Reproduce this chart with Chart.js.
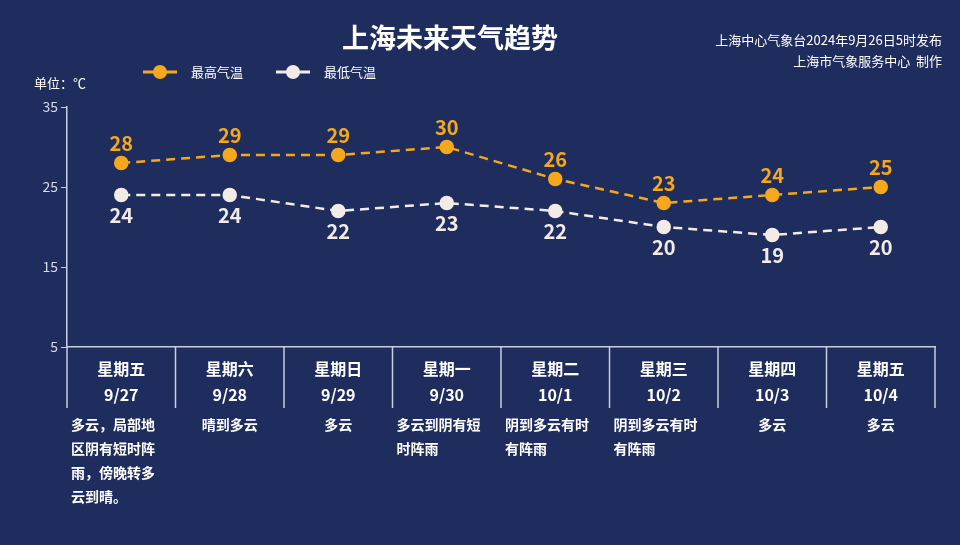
<!DOCTYPE html>
<html><head><meta charset="utf-8">
<script src="https://cdn.jsdelivr.net/npm/chart.js@4"></script>
<style>html,body{margin:0;background:#1f2d5e;}#c{display:block}</style>
</head><body>
<div style="width:960px;height:545px"><canvas id="c"></canvas></div>
<script>
const weekdays = ['星期五','星期六','星期日','星期一','星期二','星期三','星期四','星期五'];
const dates = ['9/27','9/28','9/29','9/30','10/1','10/2','10/3','10/4'];
const weather = [
  ['多云，局部地','区阴有短时阵','雨，傍晚转多','云到晴。'],
  ['晴到多云'], ['多云'], ['多云到阴有短','时阵雨'],
  ['阴到多云有时','有阵雨'], ['阴到多云有时','有阵雨'], ['多云'], ['多云']
];
const highs = [28,29,29,30,26,23,24,25];
const lows = [24,24,22,23,22,20,19,20];
const FONT = '"Noto Sans CJK SC", "Noto Sans", sans-serif';
const ORANGE = '#f5a81c', WHITE = '#f3ece6';

const extras = {
  id: 'extras',
  afterDraw(chart) {
    const ctx = chart.ctx, x = chart.scales.x, y = chart.scales.y, a = chart.chartArea;
    ctx.save();
    ctx.textAlign = 'center';
    ctx.fillStyle = '#ffffff';
    ctx.font = 'bold 27px ' + FONT;
    ctx.fillText('上海未来天气趋势', 450, 48);
    ctx.textAlign = 'right';
    ctx.font = '13px ' + FONT;
    ctx.fillText('上海中心气象台2024年9月26日5时发布', 942, 45);
    ctx.fillText('上海市气象服务中心  制作', 942, 66);
    ctx.textAlign = 'left';
    ctx.fillText('单位：℃', 34, 88);
    // legend
    [[ORANGE,'最高气温',143],[WHITE,'最低气温',276]].forEach(([c,t,lx]) => {
      ctx.strokeStyle = c; ctx.lineWidth = 3;
      ctx.beginPath(); ctx.moveTo(lx, 72); ctx.lineTo(lx+34, 72); ctx.stroke();
      ctx.fillStyle = c; ctx.beginPath(); ctx.arc(lx+17, 72, 7, 0, Math.PI*2); ctx.fill();
      ctx.fillStyle = '#ffffff'; ctx.font = '13px ' + FONT; ctx.fillText(t, lx+48, 77);
    });
    // point labels
    ctx.textAlign = 'center';
    ctx.font = 'bold 20px ' + FONT;
    highs.forEach((v,i) => { ctx.fillStyle = ORANGE; ctx.fillText(v, x.getPixelForValue(i), y.getPixelForValue(v) - 12); });
    lows.forEach((v,i) => { ctx.fillStyle = WHITE; ctx.fillText(v, x.getPixelForValue(i), y.getPixelForValue(v) + 28); });
    // table below axis
    const w = (a.right - a.left) / weekdays.length;
    ctx.strokeStyle = '#c8cde0'; ctx.lineWidth = 1.5;
    for (let i = 0; i <= weekdays.length; i++) {
      const px = a.left + i * w;
      ctx.beginPath(); ctx.moveTo(px, a.bottom); ctx.lineTo(px, a.bottom + 61); ctx.stroke();
    }
    ctx.fillStyle = '#ffffff';
    weekdays.forEach((d,i) => {
      const cx = x.getPixelForValue(i);
      ctx.font = 'bold 16px ' + FONT;
      ctx.fillText(d, cx, a.bottom + 28);
      ctx.fillText(dates[i], cx, a.bottom + 54);
      ctx.font = 'bold 14px ' + FONT;
      const lines = weather[i];
      lines.forEach((l,j) => {
        if (lines.length > 1) { ctx.textAlign = 'left'; ctx.fillText(l, a.left + i*w + 4, a.bottom + 83 + j*24); }
        else { ctx.textAlign = 'center'; ctx.fillText(l, cx, a.bottom + 83); }
      });
      ctx.textAlign = 'center';
    });
    ctx.restore();
  }
};

new Chart(document.getElementById('c'), {
  type: 'line',
  data: {
    labels: dates,
    datasets: [
      { data: highs, borderColor: ORANGE, backgroundColor: ORANGE, borderDash: [9,6], borderWidth: 2.5, pointRadius: 6, pointHoverRadius: 6, tension: 0 },
      { data: lows, borderColor: WHITE, backgroundColor: WHITE, borderDash: [9,6], borderWidth: 2.5, pointRadius: 6, pointHoverRadius: 6, tension: 0 }
    ]
  },
  options: {
    responsive: true, maintainAspectRatio: false, animation: false,
    layout: { padding: { left: 0, right: 25, top: 107, bottom: 190 } },
    plugins: { legend: { display: false }, tooltip: { enabled: false } },
    scales: {
      x: { offset: true, ticks: { display: false }, grid: { display: false }, border: { color: '#c8cde0', width: 1.5 } },
      y: { min: 5, max: 35, afterFit: s => { s.width = 67; },
           ticks: { stepSize: 10, color: '#d8dcea', font: { size: 14, family: FONT } },
           grid: { drawOnChartArea: false, color: '#c8cde0', tickLength: 6 },
           border: { color: '#c8cde0', width: 1.5 } }
    }
  },
  plugins: [extras]
});
</script>
</body></html>
